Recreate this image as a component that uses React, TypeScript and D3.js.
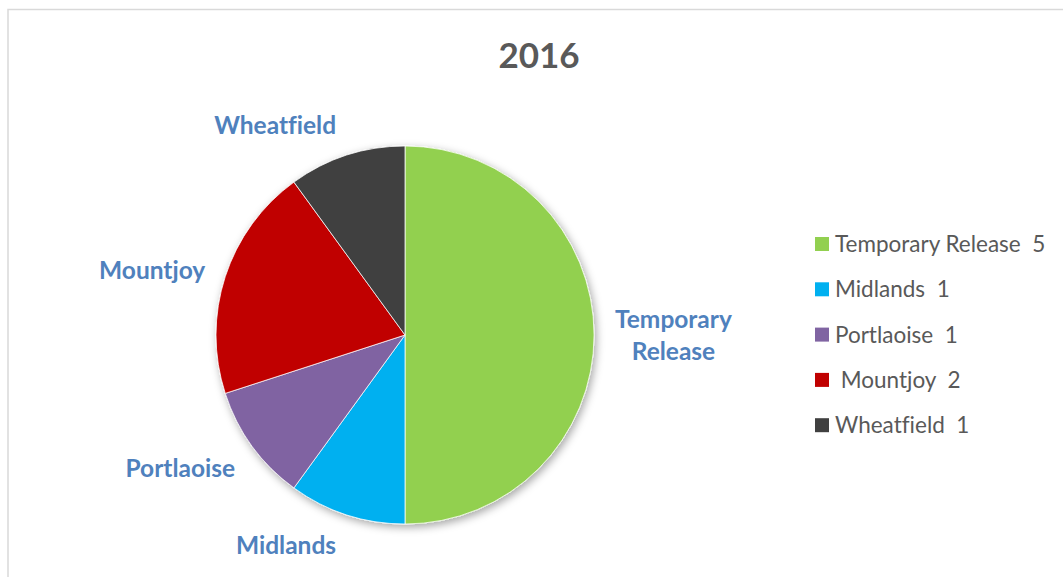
import React, { useEffect, useRef } from "react";
import * as d3 from "d3";

const categories = ["Temporary Release", "Midlands", "Portlaoise", "Mountjoy", "Wheatfield"];
const values = [5, 1, 1, 2, 1];
const colors = ["#92D050", "#00B0F0", "#8064A2", "#C00000", "#404040"];
const legendLabels = ["Temporary Release  5", "Midlands  1", "Portlaoise  1", " Mountjoy  2", "Wheatfield  1"];
const labelLines = [["Temporary", "Release"], ["Midlands"], ["Portlaoise"], ["Mountjoy"], ["Wheatfield"]];
const title = "2016";

const W = 1063;
const H = 577;
const FONT = "Lato, 'Open Sans', sans-serif";

export default function App() {
  const ref = useRef<SVGSVGElement>(null);

  useEffect(() => {
    const svg = d3.select(ref.current);
    svg.selectAll("*").remove();

    const defs = svg.append("defs");
    const f = defs
      .append("filter")
      .attr("id", "shadow")
      .attr("x", "-20%")
      .attr("y", "-20%")
      .attr("width", "140%")
      .attr("height", "140%");
    f.append("feDropShadow")
      .attr("dx", 2)
      .attr("dy", 3)
      .attr("stdDeviation", 4)
      .attr("flood-color", "#000")
      .attr("flood-opacity", 0.35);

    svg.append("rect").attr("width", W).attr("height", H).attr("fill", "#fff");
    svg
      .append("rect")
      .attr("x", 8)
      .attr("y", 9.5)
      .attr("width", W + 20)
      .attr("height", H + 20)
      .attr("fill", "none")
      .attr("stroke", "#d9d9d9")
      .attr("stroke-width", 1.5);

    svg
      .append("text")
      .attr("x", 539)
      .attr("y", 68)
      .attr("text-anchor", "middle")
      .attr("font-family", FONT)
      .attr("font-weight", 700)
      .attr("font-size", 35)
      .attr("fill", "#595959")
      .text(title);

    const cx = 405;
    const cy = 335;
    const r = 189;

    const pie = d3
      .pie<number>()
      .sort(null)
      .value((d) => d);
    const arcs = pie(values);
    const arc = d3.arc<d3.PieArcDatum<number>>().innerRadius(0).outerRadius(r);

    const g = svg.append("g").attr("transform", `translate(${cx},${cy})`);
    const slices = g.append("g").attr("filter", "url(#shadow)");
    slices
      .selectAll("path")
      .data(arcs)
      .join("path")
      .attr("d", arc)
      .attr("fill", (_, i) => colors[i])
      .attr("stroke", "#fff")
      .attr("stroke-width", 0.75);

    // Data labels: outside end (anchor point on an outer ring)
    const labelR = 210;
    const lineH = 32;
    const fs = 24.5;
    const capHalf = fs * 0.36;
    const boxH = 20;
    arcs.forEach((a, i) => {
      const mid = (a.startAngle + a.endAngle) / 2;
      const ux = Math.sin(mid);
      const uy = -Math.cos(mid);
      const ax = labelR * ux;
      const ay = labelR * uy;
      const lines = labelLines[i];
      let anchor = "middle";
      if (ux < -0.1) anchor = "end";
      else if (ux > 0.1) anchor = "start";
      let cyc = ay;
      if (Math.abs(uy) > 0.5) cyc = ay + Math.sign(uy) * (boxH / 2 + ((lines.length - 1) * lineH) / 2);
      const firstBase = cyc - ((lines.length - 1) * lineH) / 2 + capHalf;
      const xShift = anchor === "end" && Math.abs(uy) > 0.8 ? -4 : 0;
      const t = g
        .append("text")
        .attr("text-anchor", anchor)
        .attr("font-family", FONT)
        .attr("font-weight", 700)
        .attr("font-size", fs)
        .attr("fill", "#4F81BD")
        .style("font-variant-ligatures", "none");
      lines.forEach((ln, j) => {
        t.append("tspan")
          .attr("x", ax + xShift)
          .attr("y", firstBase + j * lineH)
          .text(ln);
      });
      if (lines.length > 1 && anchor === "start") {
        const bb = (t.node() as SVGTextElement).getBBox();
        const bw = bb.width;
        t.attr("text-anchor", "middle");
        t.selectAll("tspan").attr("x", ax + bw / 2);
      }
    });

    // Legend
    const lg = svg.append("g").attr("transform", "translate(815,244)");
    categories.forEach((c, i) => {
      const row = lg.append("g").attr("transform", `translate(0,${i * 45.3})`);
      row.append("rect").attr("x", 0).attr("y", -7).attr("width", 14).attr("height", 14).attr("fill", colors[i]);
      row
        .append("text")
        .attr("x", 20)
        .attr("y", 8)
        .attr("font-family", FONT)
        .attr("font-size", 22.5)
        .attr("fill", "#595959")
        .style("white-space", "pre")
        .style("font-variant-ligatures", "none")
        .attr("xml:space", "preserve")
        .text(legendLabels[i]);
    });
  }, []);

  return (
    <svg
      ref={ref}
      width={W}
      height={H}
      style={{ position: "absolute", left: 0, top: 0, display: "block" }}
    />
  );
}
